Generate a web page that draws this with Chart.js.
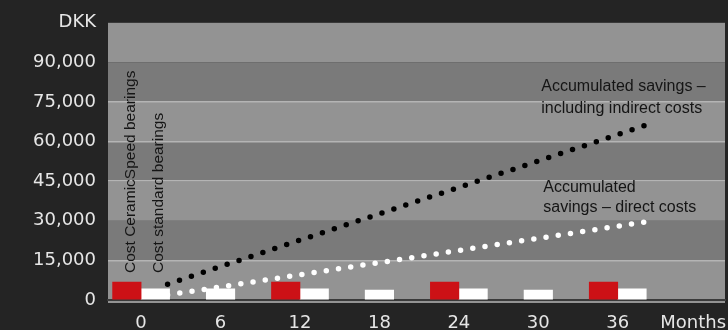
<!DOCTYPE html>
<html lang="en">
<head>
<meta charset="UTF-8" />
<title>Bearing savings</title>
<style>
  html, body { margin: 0; padding: 0; background: #242424; }
  .wrap { width: 728px; height: 330px; position: relative; }
</style>
</head>
<body>
<div class="wrap"><canvas id="savingsChart"></canvas></div>

<script src="https://cdn.jsdelivr.net/npm/chart.js"></script>
<script>
// months on the x axis, the unit label sits after the last one
const months = [0, 6, 12, 18, 24, 30, 36];
const unitMonth = 41.7;

// bearing costs in DKK per month above (null = nothing bought that month)
const ceramicCost = [6800, null, 6800, null, 6800, null, 6800];
const standardCost = [4200, 4200, 4200, 3800, 4200, 3800, 4200];

// accumulated savings, start and end of each line
const savingsMonths = [2, 38];
const savingsIndirect = [6000, 66000];
const savingsDirect = [1900, 29500];

// y ticks, the top one shows the currency
const yTicks = [0, 15000, 30000, 45000, 60000, 75000, 90000, 105000];
const gridTicks = [15000, 45000, 60000, 75000];

Chart.defaults.font.family = '"DejaVu Sans", Verdana, sans-serif';

// striped background, one band per y tick step
const bands = {
    id: 'bands',
    beforeDraw(chart) {
        const { ctx, chartArea: a, scales: { y } } = chart;
        ctx.save();
        for (let i = 0; i < yTicks.length - 1; i++) {
            const top = y.getPixelForValue(yTicks[i + 1]);
            let bottom = y.getPixelForValue(yTicks[i]);
            if (i === 0) bottom += 3;
            ctx.fillStyle = i % 2 ? '#7a7a7a' : '#939393';
            ctx.fillRect(a.left, top, a.right - a.left, bottom - top);
        }
        ctx.restore();
    }
};

// rotated bar captions and the captions of the two lines
const notes = {
    id: 'notes',
    afterDatasetsDraw(chart) {
        const ctx = chart.ctx;
        const red = chart.getDatasetMeta(0).data[0];
        const white = chart.getDatasetMeta(1).data[0];
        ctx.save();
        ctx.fillStyle = '#151515';
        ctx.font = '15.5px "Liberation Sans", Arial, sans-serif';
        ctx.textAlign = 'left';
        ctx.textBaseline = 'alphabetic';
        const startY = red.y - 9;
        [[red, 'Cost CeramicSpeed bearings'], [white, 'Cost standard bearings']].forEach(([bar, text]) => {
            ctx.save();
            ctx.translate(bar.x + 8, startY);
            ctx.rotate(-Math.PI / 2);
            ctx.fillText(text, 0, 0);
            ctx.restore();
        });

        ctx.font = '16px "Liberation Sans", Arial, sans-serif';
        ctx.textBaseline = 'middle';
        const ind = chart.getDatasetMeta(2).data[1];
        const dir = chart.getDatasetMeta(3).data[1];
        ctx.fillText('Accumulated savings –', ind.x - 103, ind.y - 39);
        ctx.fillText('including indirect costs', ind.x - 103, ind.y - 17.5);
        ctx.fillText('Accumulated', dir.x - 101, dir.y - 35);
        ctx.fillText('savings – direct costs', dir.x - 101, dir.y - 14.5);
        ctx.restore();
    }
};

const ctx = document.getElementById('savingsChart').getContext('2d');
new Chart(ctx, {
    type: 'bar',
    data: {
        datasets: [{
            label: 'Cost CeramicSpeed bearings',
            data: months.map((m, i) => ({ x: m, y: ceramicCost[i] })),
            backgroundColor: '#cc1116',
            barThickness: 28.5,
            skipNull: true,
            borderWidth: 0
        }, {
            label: 'Cost standard bearings',
            data: months.map((m, i) => ({ x: m, y: standardCost[i] })),
            backgroundColor: '#ffffff',
            barThickness: 28.5,
            skipNull: true,
            borderWidth: 0
        }, {
            type: 'line',
            label: 'Accumulated savings - including indirect costs',
            data: savingsMonths.map((m, i) => ({ x: m, y: savingsIndirect[i] })),
            borderColor: '#000000',
            borderWidth: 5.5,
            borderDash: [0, 12.55],
            borderCapStyle: 'round',
            pointRadius: 0,
            fill: false,
            tension: 0
        }, {
            type: 'line',
            label: 'Accumulated savings - direct costs',
            data: savingsMonths.map((m, i) => ({ x: m, y: savingsDirect[i] })),
            borderColor: '#ffffff',
            borderWidth: 5.5,
            borderDash: [0, 12.35],
            borderCapStyle: 'round',
            pointRadius: 0,
            fill: false,
            tension: 0
        }]
    },
    options: {
        responsive: true,
        maintainAspectRatio: false,
        animation: false,
        layout: { padding: { top: 20, right: 3, left: 0, bottom: 0 } },
        plugins: {
            legend: { display: false },
            tooltip: { enabled: false }
        },
        scales: {
            x: {
                type: 'linear',
                min: -2.5,
                max: 44.1,
                offset: false,
                afterBuildTicks: axis => { axis.ticks = months.concat(unitMonth).map(v => ({ value: v })); },
                afterFit: axis => {
                    axis.height = 30;
                    axis.paddingLeft = 0;
                    axis.paddingRight = 0;
                },
                grid: { display: false },
                border: { display: true, color: '#3a3a3a', width: 2 },
                ticks: {
                    autoSkip: false,
                    maxRotation: 0,
                    padding: 5,
                    color: '#e6e6e6',
                    font: { size: 18 },
                    callback: v => v === unitMonth ? 'Months' : v
                }
            },
            y: {
                min: 0,
                max: 105000,
                afterBuildTicks: axis => { axis.ticks = yTicks.map(v => ({ value: v })); },
                afterFit: axis => { axis.width = 108; },
                border: { display: false },
                grid: {
                    color: c => (c.tick && gridTicks.includes(c.tick.value)) ? '#b4b4b4' : 'rgba(0,0,0,0)',
                    lineWidth: 1.5,
                    drawTicks: false
                },
                ticks: {
                    padding: 12,
                    color: '#e6e6e6',
                    font: { size: 18 },
                    callback: v => v === 105000 ? 'DKK' : v.toLocaleString('en-US')
                }
            }
        }
    },
    plugins: [bands, notes]
});
</script>
</body>
</html>
